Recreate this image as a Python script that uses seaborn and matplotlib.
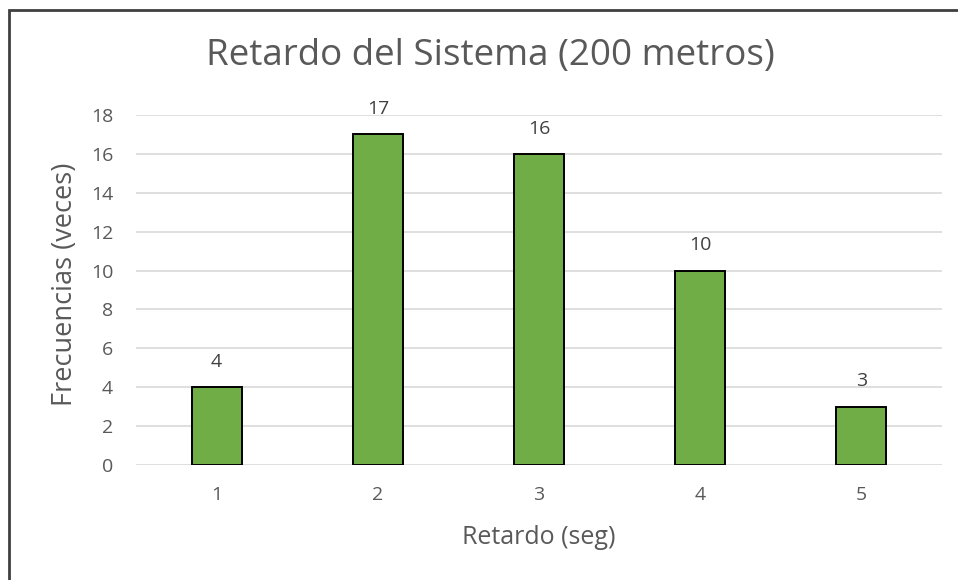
import matplotlib
matplotlib.use("Agg")
import matplotlib.pyplot as plt
import seaborn as sns
import pandas as pd

# Delay histogram data
retardo = ["1", "2", "3", "4", "5"]
frecuencias = [4, 17, 16, 10, 3]
y_ticks = [0, 2, 4, 6, 8, 10, 12, 14, 16, 18]

titulo = "Retardo del Sistema (200 metros)"
etiqueta_x = "Retardo (seg)"
etiqueta_y = "Frecuencias (veces)"

sns.set_theme(style="white")
plt.rcParams["font.family"] = ["Open Sans", "DejaVu Sans"]

df = pd.DataFrame({"Retardo": retardo, "Frecuencia": frecuencias})

fig = plt.figure(figsize=(9.58, 5.8), dpi=100)
ax = fig.add_axes([0.142, 0.1983, 0.8413, 0.6034])

sns.barplot(data=df, x="Retardo", y="Frecuencia", color="#70AD47",
            saturation=1, width=0.31, edgecolor="black", linewidth=1.4,
            ax=ax, zorder=3)

ax.set_ylim(0, 18)
ax.set_yticks(y_ticks)
ax.set_xlim(-0.5, len(retardo) - 0.5)
ax.grid(axis="y", color="#D9D9D9", linewidth=1.2, zorder=0)
for s in ax.spines.values():
    s.set_visible(False)
ax.tick_params(axis="both", length=0, labelsize=14, labelcolor="#595959")
ax.tick_params(axis="x", pad=15)
ax.tick_params(axis="y", pad=16.5)

for p, v in zip(ax.patches, frecuencias):
    ax.text(p.get_x() + p.get_width() / 2, v + 1.3, str(v), ha="center",
            va="center", fontsize=14, color="#404040", clip_on=False)

ax.set_xlabel("")
ax.set_ylabel("")
fig.text(539 / 958, 1 - 537 / 580, etiqueta_x, ha="center", va="center",
         fontsize=18, color="#595959")
fig.text(65 / 958, 1 - 284 / 580, etiqueta_y, ha="center", va="center",
         rotation=90, fontsize=19.5, color="#595959")

fig.text(490 / 958, 1 - 56 / 580, titulo, ha="center", va="center",
         fontsize=26.5, color="#595959")

# Chart frame
frame = plt.Rectangle((9 / 958, -0.1), 1.2, 1 - 10 / 580 + 0.1,
                      transform=fig.transFigure, fill=False,
                      edgecolor="#404040", linewidth=2)
fig.add_artist(frame)

fig.savefig("out.png", dpi=100, facecolor="white")
